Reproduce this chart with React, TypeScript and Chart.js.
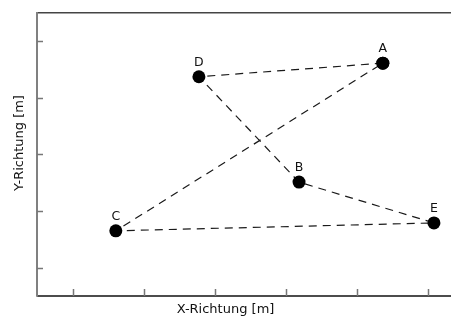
import React, { useEffect, useRef } from "react";
import { Chart, registerables } from "chart.js";

Chart.register(...registerables);

// Path order: A -> D -> B -> E -> C -> A
const pointNames = ["A", "D", "B", "E", "C", "A"];
const xValues = [5.37, 2.78, 4.19, 6.09, 1.61, 5.37];
const yValues = [4.61, 4.37, 2.51, 1.79, 1.65, 4.61];
const xTicks = [1, 2, 3, 4, 5, 6];
const yTicks = [1, 2, 3, 4, 5];
const xTitle = "X-Richtung [m]";
const yTitle = "Y-Richtung [m]";

const FONT = "DejaVu Sans, Verdana, sans-serif";

const framePlugin = {
  id: "frame",
  afterDatasetsDraw(chart: any) {
    const { ctx, chartArea, scales } = chart;
    const { left, right, top, bottom } = chartArea;
    ctx.save();
    ctx.strokeStyle = "#444";
    ctx.lineWidth = 1.5;
    ctx.beginPath();
    ctx.moveTo(left, top);
    ctx.lineTo(right, top);
    ctx.stroke();
    ctx.strokeStyle = "#111";
    ctx.beginPath();
    ctx.moveTo(left, bottom);
    ctx.lineTo(right, bottom);
    ctx.stroke();
    ctx.strokeStyle = "#808080";
    ctx.lineWidth = 2;
    ctx.beginPath();
    ctx.moveTo(left, top - 0.75);
    ctx.lineTo(left, bottom + 0.75);
    ctx.stroke();
    ctx.strokeStyle = "#777";
    ctx.lineWidth = 1.5;
    xTicks.forEach((v) => {
      const px = Math.round(scales.x.getPixelForValue(v)) + 0.5;
      ctx.beginPath();
      ctx.moveTo(px, bottom);
      ctx.lineTo(px, bottom - 7);
      ctx.stroke();
    });
    yTicks.forEach((v) => {
      const py = Math.round(scales.y.getPixelForValue(v)) + 0.5;
      ctx.beginPath();
      ctx.moveTo(left, py);
      ctx.lineTo(left + 6, py);
      ctx.stroke();
    });
    ctx.fillStyle = "#111";
    ctx.font = "12.5px " + FONT;
    ctx.textAlign = "center";
    ctx.textBaseline = "alphabetic";
    const meta = chart.getDatasetMeta(0);
    meta.data.forEach((el: any, i: number) => {
      if (i === pointNames.length - 1) return;
      ctx.fillText(pointNames[i], el.x, el.y - 11);
    });
    ctx.font = "13px " + FONT;
    ctx.fillStyle = "#111";
    ctx.textBaseline = "middle";
    ctx.fillText(xTitle, chart.width / 2, 310);
    ctx.save();
    ctx.translate(20, 143);
    ctx.rotate(-Math.PI / 2);
    ctx.fillText(yTitle, 0, 0);
    ctx.restore();
    ctx.restore();
  },
};

export default function App() {
  const ref = useRef<HTMLCanvasElement>(null);
  useEffect(() => {
    document.body.style.margin = "0";
    const canvas = ref.current!;
    const chart = new Chart(canvas, {
      type: "scatter",
      data: {
        datasets: [
          {
            data: xValues.map((x, i) => ({ x, y: yValues[i] })),
            showLine: true,
            borderColor: "#1a1a1a",
            borderWidth: 1.2,
            borderDash: [8, 6],
            pointRadius: 6.5,
            pointBackgroundColor: "#000",
            pointBorderColor: "#000",
            pointBorderWidth: 0,
          },
        ],
      },
      options: {
        responsive: false,
        animation: false,
        layout: { autoPadding: false, padding: { left: 37, top: 12.7, right: 0, bottom: 24 } },
        plugins: { legend: { display: false }, tooltip: { enabled: false } },
        scales: {
          x: { type: "linear", display: false, min: 0.5, max: 6.33 },
          y: { type: "linear", display: false, min: 0.5, max: 5.5 },
        },
      },
      plugins: [framePlugin],
    });
    return () => chart.destroy();
  }, []);
  return <canvas ref={ref} width={451} height={320} style={{ display: "block" }} />;
}
